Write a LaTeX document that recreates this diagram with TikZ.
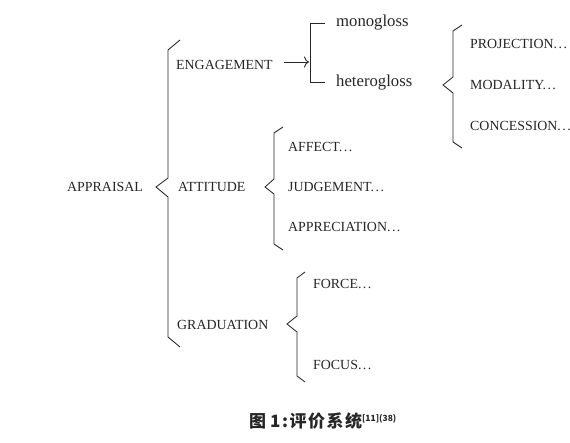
\documentclass[tikz,border=0pt]{standalone}
\usepackage{fontspec}
\setmainfont{Liberation Serif}
\newfontfamily\cjk{Noto Sans CJK SC}
\usetikzlibrary{arrows.meta}
\newcommand{\mydots}{.\kern1.5pt.\kern1.5pt.}
\begin{document}
\begin{tikzpicture}[x=1pt,y=-1pt,
  captxt/.style={anchor=west,inner sep=0pt,font=\fontsize{13.9}{15}\selectfont,text=black!85},
  lowtxt/.style={anchor=west,inner sep=0pt,font=\fontsize{16.7}{18}\selectfont,text=black!85},
  brace/.style={draw=black!85,line width=0.85pt,line join=miter},
  arr/.style={draw=black!85,line width=0.85pt,-{To[length=5pt,width=11pt]}}]
\useasboundingbox (0,0) rectangle (570,443);
% texts
\node[captxt] (appraisal) at (67,187) {APPRAISAL};
\node[captxt] (engagement) at (176,65) {ENGAGEMENT};
\node[captxt] (attitude) at (178,187) {ATTITUDE};
\node[captxt] (graduation) at (177,325) {GRADUATION};
\node[lowtxt] (mono) at (336,23) {monogloss};
\node[lowtxt] (hetero) at (336,83) {heterogloss};
\node[captxt] (proj) at (470,44) {PROJECTION\mydots};
\node[captxt] (modal) at (470,85) {MODALITY\mydots};
\node[captxt] (conc) at (470,126) {CONCESSION\mydots};
\node[captxt] (affect) at (288,147) {AFFECT\mydots};
\node[captxt] (judge) at (288,187) {JUDGEMENT\mydots};
\node[captxt] (apprec) at (288,227) {APPRECIATION\mydots};
\node[captxt] (force) at (313,284) {FORCE\mydots};
\node[captxt] (focus) at (313,365) {FOCUS\mydots};
% main brace
\draw[brace] (180,40) -- (168,50) -- (168,178) -- (156,187) -- (168,197) -- (168,337) -- (180,347);
% attitude brace
\draw[brace] (283,127) -- (274,133) -- (274,179) -- (265,187) -- (274,194) -- (274,244) -- (283,250);
% graduation brace
\draw[brace] (305,272) -- (297,278) -- (297,316) -- (287,324) -- (297,332) -- (297,376) -- (305,382);
% heterogloss brace
\draw[brace] (462,25) -- (453,31) -- (453,77) -- (443,85) -- (453,93) -- (453,142) -- (462,148);
% square bracket
\draw[brace] (325,23) -- (310,23) -- (310,82) -- (325,82);
\coordinate (arrstart) at (284,62);
\coordinate (arrend) at (309,62);
\draw[arr] (arrstart) -- (arrend);
% caption
\node[anchor=west,inner sep=0pt,font=\cjk\bfseries\fontsize{17}{19}\selectfont,text=black!85] (caption) at (249,421)
  {图\kern4pt 1\kern1.5pt:\kern1.5pt 评\kern1.5pt 价\kern1.5pt 系\kern1.5pt 统\textsuperscript{\fontsize{8.5}{9.5}\selectfont[11](38)}};
\end{tikzpicture}
\end{document}
